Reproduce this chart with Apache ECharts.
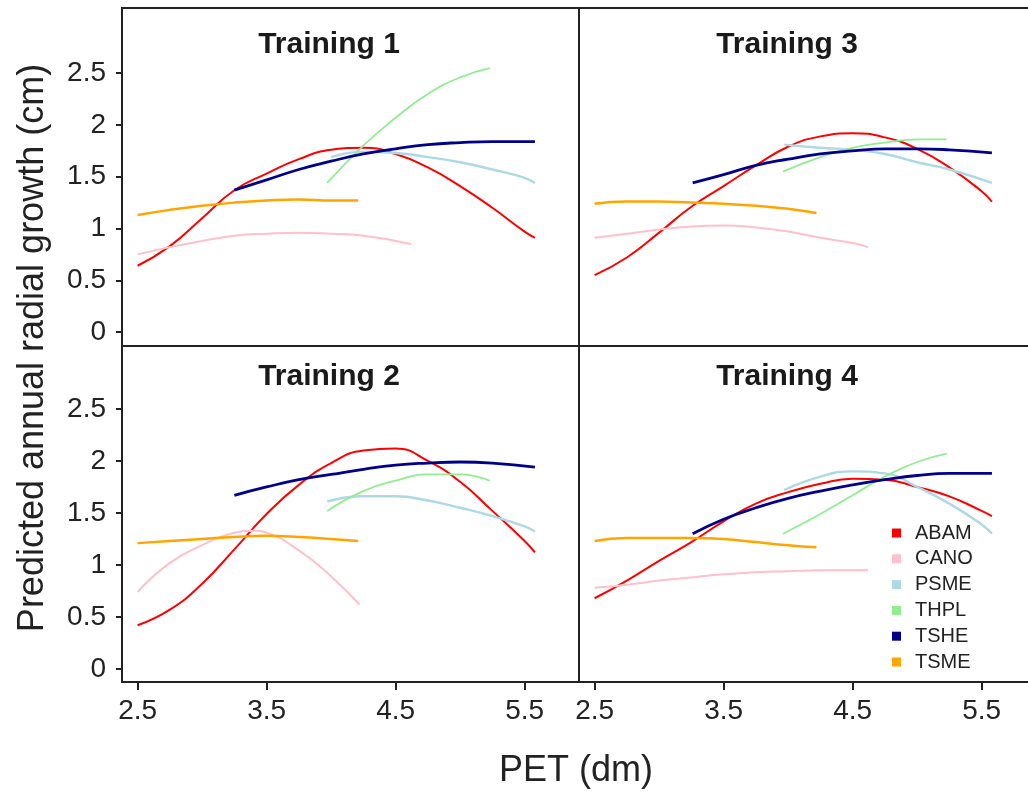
<!DOCTYPE html>
<html>
<head>
<meta charset="utf-8">
<script src="https://cdn.jsdelivr.net/npm/echarts@6/dist/echarts.min.js"></script>
<style>
  html, body { margin: 0; padding: 0; background: #fff; }
  #chart { width: 1028px; height: 795px; }
</style>
</head>
<body>
<div id="chart"></div>
<script>
// Species shown in every panel, with their colours
const species = ['ABAM', 'CANO', 'PSME', 'THPL', 'TSHE', 'TSME'];
const speciesColors = ['#FF0000', '#FFC0CB', '#ADD8E6', '#90EE90', '#00008B', '#FFA500'];
const panelTitles = ['Training 1', 'Training 3', 'Training 2', 'Training 4'];
const yTickValues = [0, 0.5, 1, 1.5, 2, 2.5];
const xTickValues = [2.5, 3.5, 4.5, 5.5];

// Predicted annual radial growth (cm) against PET (dm): [PET, growth]
// Training 1
const t1ABAM = [[2.5,0.64],[2.75,0.83],[3.0,1.10],[3.25,1.37],[3.5,1.53],[3.75,1.67],[4.0,1.76],[4.25,1.78],[4.5,1.72],[4.75,1.59],[5.0,1.41],[5.25,1.20],[5.5,0.97],[5.58,0.91]];
const t1CANO = [[2.5,0.75],[2.75,0.82],[3.0,0.88],[3.25,0.93],[3.5,0.95],[3.75,0.96],[4.0,0.95],[4.25,0.93],[4.5,0.88],[4.62,0.85]];
const t1PSME = [[4.0,1.69],[4.25,1.74],[4.5,1.73],[4.75,1.69],[5.0,1.64],[5.25,1.57],[5.5,1.49],[5.58,1.44]];
const t1THPL = [[3.97,1.44],[4.25,1.80],[4.5,2.07],[4.75,2.30],[5.0,2.46],[5.23,2.55]];
const t1TSHE = [[3.25,1.37],[3.5,1.47],[3.75,1.57],[4.0,1.65],[4.25,1.72],[4.5,1.77],[4.75,1.81],[5.0,1.83],[5.25,1.84],[5.58,1.84]];
const t1TSME = [[2.5,1.13],[2.75,1.18],[3.0,1.22],[3.25,1.25],[3.5,1.27],[3.75,1.28],[4.0,1.27],[4.21,1.27]];
// Training 2
const t2ABAM = [[2.5,0.42],[2.75,0.57],[3.0,0.82],[3.25,1.15],[3.5,1.49],[3.75,1.77],[4.0,1.98],[4.25,2.10],[4.5,2.12],[4.75,2.00],[5.0,1.80],[5.25,1.52],[5.5,1.23],[5.58,1.12]];
const t2CANO = [[2.5,0.74],[2.75,1.02],[3.0,1.19],[3.25,1.31],[3.4,1.33],[3.5,1.31],[3.75,1.14],[4.0,0.89],[4.22,0.62]];
const t2PSME = [[3.97,1.61],[4.25,1.66],[4.5,1.66],[4.75,1.62],[5.0,1.55],[5.25,1.47],[5.5,1.37],[5.58,1.32]];
const t2THPL = [[3.97,1.52],[4.25,1.71],[4.5,1.81],[4.75,1.87],[5.0,1.87],[5.23,1.81]];
const t2TSHE = [[3.25,1.67],[3.5,1.75],[3.75,1.82],[4.0,1.87],[4.25,1.92],[4.5,1.96],[4.75,1.98],[5.0,1.99],[5.25,1.98],[5.58,1.94]];
const t2TSME = [[2.5,1.21],[2.75,1.23],[3.0,1.25],[3.25,1.27],[3.5,1.28],[3.75,1.27],[4.0,1.25],[4.21,1.23]];
// Training 3
const t3ABAM = [[2.5,0.55],[2.75,0.72],[3.0,0.96],[3.25,1.21],[3.5,1.41],[3.75,1.61],[4.0,1.79],[4.25,1.89],[4.5,1.92],[4.75,1.88],[5.0,1.77],[5.25,1.59],[5.5,1.36],[5.58,1.26]];
const t3CANO = [[2.5,0.91],[2.75,0.95],[3.0,0.99],[3.25,1.02],[3.5,1.03],[3.75,1.01],[4.0,0.97],[4.25,0.91],[4.5,0.86],[4.62,0.82]];
const t3PSME = [[3.97,1.81],[4.25,1.78],[4.5,1.76],[4.75,1.72],[5.0,1.64],[5.25,1.57],[5.58,1.44]];
const t3THPL = [[3.96,1.55],[4.25,1.69],[4.5,1.78],[4.75,1.83],[5.0,1.86],[5.23,1.86]];
const t3TSHE = [[3.26,1.44],[3.5,1.52],[3.75,1.61],[4.0,1.67],[4.25,1.72],[4.5,1.75],[4.75,1.77],[5.0,1.77],[5.25,1.76],[5.58,1.73]];
const t3TSME = [[2.5,1.24],[2.75,1.26],[3.0,1.26],[3.25,1.25],[3.5,1.24],[3.75,1.22],[4.0,1.19],[4.22,1.15]];
// Training 4
const t4ABAM = [[2.5,0.68],[2.75,0.85],[3.0,1.04],[3.25,1.22],[3.5,1.42],[3.75,1.59],[4.0,1.70],[4.25,1.78],[4.5,1.83],[4.75,1.82],[5.0,1.75],[5.25,1.66],[5.5,1.52],[5.58,1.47]];
const t4CANO = [[2.5,0.78],[2.75,0.81],[3.0,0.85],[3.25,0.88],[3.5,0.91],[3.75,0.93],[4.0,0.94],[4.25,0.95],[4.62,0.95]];
const t4PSME = [[3.97,1.72],[4.25,1.85],[4.5,1.90],[4.75,1.88],[5.0,1.75],[5.25,1.59],[5.5,1.39],[5.58,1.30]];
const t4THPL = [[3.96,1.30],[4.25,1.49],[4.5,1.67],[4.75,1.85],[5.0,1.99],[5.23,2.07]];
const t4TSHE = [[3.26,1.30],[3.5,1.44],[3.75,1.55],[4.0,1.64],[4.25,1.71],[4.5,1.77],[4.75,1.82],[5.0,1.86],[5.25,1.88],[5.58,1.88]];
const t4TSME = [[2.5,1.23],[2.75,1.26],[3.0,1.26],[3.25,1.26],[3.5,1.25],[3.75,1.22],[4.0,1.19],[4.22,1.17]];

// Panel order follows the grids: top-left, top-right, bottom-left, bottom-right
const panelData = [
  [t1ABAM, t1CANO, t1PSME, t1THPL, t1TSHE, t1TSME],
  [t3ABAM, t3CANO, t3PSME, t3THPL, t3TSHE, t3TSME],
  [t2ABAM, t2CANO, t2PSME, t2THPL, t2TSHE, t2TSME],
  [t4ABAM, t4CANO, t4PSME, t4THPL, t4TSHE, t4TSME]
];

const FONT = 'Liberation Sans, Arial, sans-serif';
const TEXT = '#222222';
const FRAME = '#222222';
const lineWidths = [2, 2, 2.4, 1.8, 2.8, 2.5];

// Layout of the 2x2 facet grid (px)
const colLeft = [122, 579];
const colWidth = [457, 459];
const rowTop = [8, 346];
const rowHeight = [338, 336];
const xMin = 2.379, pxPerPet = 129;
const yRange = [[-0.135, 3.13], [-0.125, 3.105]];

const grids = [], xAxes = [], yAxes = [], series = [], graphics = [];
for (let p = 0; p < 4; p++) {
  const row = Math.floor(p / 2), col = p % 2;
  grids.push({
    left: colLeft[col], top: rowTop[row], width: colWidth[col], height: rowHeight[row],
    outerBoundsMode: 'none', containLabel: false,
    show: true, borderColor: FRAME, borderWidth: 2, backgroundColor: 'transparent'
  });
  xAxes.push({
    type: 'value', gridIndex: p,
    min: xMin, max: xMin + colWidth[col] / pxPerPet,
    splitLine: { show: false },
    axisLine: { show: true, onZero: false, lineStyle: { color: FRAME, width: 2 } },
    axisTick: { show: row === 1, length: 8, customValues: xTickValues, lineStyle: { color: FRAME, width: 2 } },
    axisLabel: { show: row === 1, customValues: xTickValues, margin: 15, fontSize: 28, fontFamily: FONT, color: TEXT,
      formatter: v => String(v) }
  });
  yAxes.push({
    type: 'value', gridIndex: p,
    min: yRange[row][0], max: yRange[row][1],
    splitLine: { show: false },
    axisLine: { show: true, onZero: false, lineStyle: { color: FRAME, width: 2 } },
    axisTick: { show: col === 0, length: 6, customValues: yTickValues, lineStyle: { color: FRAME, width: 2 } },
    axisLabel: { show: col === 0, customValues: yTickValues, margin: 16, fontSize: 28, fontFamily: FONT, color: TEXT,
      formatter: v => String(v) }
  });
  panelData[p].forEach((pts, s) => {
    series.push({
      type: 'line', name: species[s], xAxisIndex: p, yAxisIndex: p,
      data: pts, showSymbol: false, smooth: true,
      lineStyle: { color: speciesColors[s], width: lineWidths[s] },
      itemStyle: { color: speciesColors[s] }
    });
  });
  graphics.push({
    type: 'text', x: colLeft[col] + (col === 0 ? 207 : 208), y: rowTop[row] + (row === 0 ? 37 : 31),
    style: { text: panelTitles[p], fontSize: 30, fontWeight: 'bold', fontFamily: FONT, fill: '#1a1a1a',
      align: 'center', verticalAlign: 'middle' }
  });
}

// Shared axis titles
graphics.push({
  type: 'text', x: 33, y: 348, rotation: Math.PI / 2,
  style: { text: 'Predicted annual radial growth (cm)', fontSize: 36, fontFamily: FONT, fill: TEXT,
    align: 'center', verticalAlign: 'middle' }
});
graphics.push({
  type: 'text', x: 576, y: 771,
  style: { text: 'PET (dm)', fontSize: 36, fontFamily: FONT, fill: TEXT, align: 'center', verticalAlign: 'middle' }
});

const chart = echarts.init(document.getElementById('chart'), null, { renderer: 'canvas' });
chart.setOption({
  animation: false,
  backgroundColor: '#ffffff',
  grid: grids,
  xAxis: xAxes,
  yAxis: yAxes,
  series: series,
  graphic: graphics,
  legend: {
    data: species.map((n, i) => ({ name: n, icon: 'rect', itemStyle: { color: speciesColors[i] } })),
    orient: 'vertical', left: 892, top: 523, padding: 0,
    itemWidth: 9, itemHeight: 9, itemGap: 5.8,
    textStyle: { fontSize: 20, lineHeight: 20, fontFamily: FONT, color: TEXT, padding: [0, 0, 0, 9] },
    selectedMode: false
  }
});
</script>
</body>
</html>
